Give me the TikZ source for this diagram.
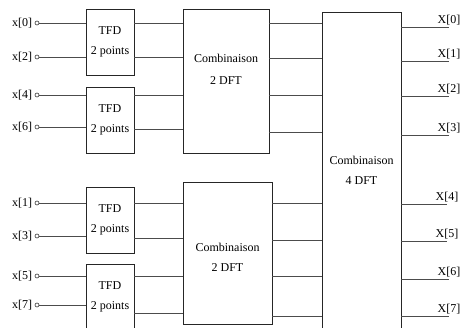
\documentclass[tikz,border=0pt]{standalone}
\usepackage{fontspec}
\setmainfont{Liberation Serif}
\usetikzlibrary{positioning}

\begin{document}
\begin{tikzpicture}[
  x=1pt, y=-1pt,
  font=\fontsize{12}{14}\selectfont,
  wire/.style={line width=0.7pt, draw=black!70},
  tfd/.style={rectangle, draw=black!85, line width=0.8pt,
    minimum width=48pt, minimum height=66pt,
    inner sep=0pt, align=center},
  comb/.style={rectangle, draw=black!85, line width=0.8pt, inner sep=0pt},
  combtext/.style={align=center, inner sep=0pt},
  inpt/.style={circle, draw=black!80, line width=0.6pt,
    inner sep=0pt, minimum size=4pt,
    label={[inner sep=0pt, label distance=2.5pt]left:#1}},
  outlbl/.style={anchor=south, inner sep=2pt}
]
  \clip (0,0) rectangle (462,327);

  % inputs
  \node[inpt={x[0]}] (i0) at (37,23) {};
  \node[inpt={x[2]}] (i2) at (37,57) {};
  \node[inpt={x[4]}] (i4) at (37,95) {};
  \node[inpt={x[6]}] (i6) at (37,127) {};
  \node[inpt={x[1]}] (i1) at (37,203) {};
  \node[inpt={x[3]}] (i3) at (37,236) {};
  \node[inpt={x[5]}] (i5) at (37,276) {};
  \node[inpt={x[7]}] (i7) at (37,305) {};

  % blocks
  \node[tfd] (t1) at (110,42) {TFD\\[6pt]2 points};
  \node[tfd] (t2) at (110,120) {TFD\\[6pt]2 points};
  \node[tfd] (t3) at (110,220) {TFD\\[6pt]2 points};
  \node[tfd] (t4) at (110,297) {TFD\\[6pt]2 points};
  \node[comb, minimum width=86pt, minimum height=144pt] (c1) at (226,81) {};
  \node[comb, minimum width=89pt, minimum height=142pt] (c2) at (227.5,253) {};
  \node[comb, minimum width=79pt, minimum height=323pt] (d4) at (361.5,173.5) {};
  \node[combtext] (c1txt) at ([yshift=12pt]c1.center) {Combinaison\\[8pt]2 DFT};
  \node[combtext] (c2txt) at ([yshift=-4pt]c2.center) {Combinaison\\[6pt]2 DFT};
  \node[combtext] (d4txt) at ([yshift=3pt]d4.center) {Combinaison\\[6pt]4 DFT};

  % outputs
  \node[outlbl] (o0) at (449,27) {X[0]};
  \node[outlbl] (o1) at (449,61) {X[1]};
  \node[outlbl] (o2) at (449,96) {X[2]};
  \node[outlbl] (o3) at (449,135) {X[3]};
  \node[outlbl] (o4) at (447,204) {X[4]};
  \node[outlbl] (o5) at (447,241) {X[5]};
  \node[outlbl] (o6) at (449,279) {X[6]};
  \node[outlbl] (o7) at (449,316) {X[7]};

  % inputs -> TFD
  \draw[wire] (i0) -- (t1.west |- i0);
  \draw[wire] (i2) -- (t1.west |- i2);
  \draw[wire] (i4) -- (t2.west |- i4);
  \draw[wire] (i6) -- (t2.west |- i6);
  \draw[wire] (i1) -- (t3.west |- i1);
  \draw[wire] (i3) -- (t3.west |- i3);
  \draw[wire] (i5) -- (t4.west |- i5);
  \draw[wire] (i7) -- (t4.west |- i7);

  % TFD -> combinaison 2 DFT
  \draw[wire] (t1.east |- i0) -- (c1.west |- i0);
  \draw[wire] (t1.east |- i2) -- (c1.west |- i2);
  \draw[wire] (t2.east |- i4) -- (c1.west |- i4);
  \draw[wire] (t2.east |- 0,129) -- (c1.west |- 0,129);
  \draw[wire] (t3.east |- i1) -- (c2.west |- i1);
  \draw[wire] (t3.east |- 0,238) -- (c2.west |- 0,238);
  \draw[wire] (t4.east |- i5) -- (c2.west |- i5);
  \draw[wire] (t4.east |- 0,313) -- (c2.west |- 0,313);

  % combinaison 2 DFT -> combinaison 4 DFT
  \draw[wire] (c1.east |- 0,23) -- (d4.west |- 0,23);
  \draw[wire] (c1.east |- 0,58) -- (d4.west |- 0,58);
  \draw[wire] (c1.east |- 0,95) -- (d4.west |- 0,95);
  \draw[wire] (c1.east |- 0,132) -- (d4.west |- 0,132);
  \draw[wire] (c2.east |- 0,203) -- (d4.west |- 0,203);
  \draw[wire] (c2.east |- 0,240) -- (d4.west |- 0,240);
  \draw[wire] (c2.east |- 0,276) -- (d4.west |- 0,276);
  \draw[wire] (c2.east |- 0,316) -- (d4.west |- 0,316);

  % combinaison 4 DFT -> outputs
  \draw[wire] (d4.east |- o0.south) -- (o0.south);
  \draw[wire] (d4.east |- o1.south) -- (o1.south);
  \draw[wire] (d4.east |- o2.south) -- (o2.south);
  \draw[wire] (d4.east |- o3.south) -- (o3.south);
  \draw[wire] (d4.east |- o4.south) -- (o4.south);
  \draw[wire] (d4.east |- o5.south) -- (o5.south);
  \draw[wire] (d4.east |- o6.south) -- (o6.south);
  \draw[wire] (d4.east |- o7.south) -- (o7.south);
\end{tikzpicture}
\end{document}
